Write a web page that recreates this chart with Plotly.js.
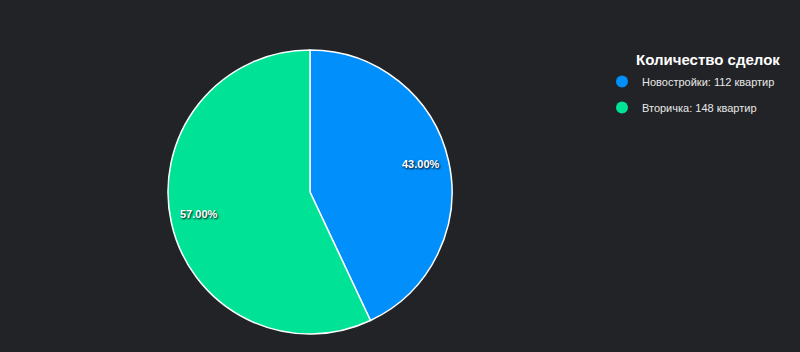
<!DOCTYPE html>
<html>
<head>
<meta charset="utf-8">
<script src="https://cdn.plot.ly/plotly-3.0.1.min.js"></script>
<style>html,body{margin:0;padding:0;background:#222326;}#chart{width:800px;height:352px;}</style>
</head>
<body>
<div id="chart"></div>
<script>
const categories = ["Новостройки", "Вторичка"];
const counts = [112, 148];
const shares = [43, 57];
const shareLabels = ["43.00%", "57.00%"];
const colors = ["#008FFB", "#00E396"];
const legendTitle = "Количество сделок";
const unit = "квартир";

const W = 800, H = 352;
const pieCx = 310, pieCy = 192, pieR = 142;
const FONT = "Liberation Sans, Arial, sans-serif";

const pie = {
  type: "pie",
  values: shares,
  labels: categories,
  textinfo: "none",
  sort: false,
  direction: "clockwise",
  rotation: 0,
  marker: {colors: colors, line: {color: "#ffffff", width: 1.5}},
  domain: {x: [(pieCx - pieR) / W, (pieCx + pieR) / W], y: [1 - (pieCy + pieR) / H, 1 - (pieCy - pieR) / H]},
  showlegend: false,
  hoverinfo: "label+value"
};

const legendTraces = categories.map((c, i) => ({
  type: "scatter",
  mode: "markers",
  x: [null], y: [null],
  name: c + ": " + counts[i] + " " + unit,
  marker: {color: colors[i], size: 12, symbol: "circle"},
  legendgroup: "g" + i,
  showlegend: true,
  hoverinfo: "skip"
}));

// slice labels placed at mid-angle of each slice, derived from the data
const total = shares.reduce((a, b) => a + b, 0);
let cum = 0;
const annotations = shares.map((v, i) => {
  const mid = 2 * Math.PI * (cum + v / 2) / total;
  cum += v;
  const rr = 0.8 * pieR;
  return {
    x: (pieCx + rr * Math.sin(mid)) / W,
    y: 1 - (pieCy - rr * Math.cos(mid)) / H,
    xref: "paper", yref: "paper",
    xanchor: "center", yanchor: "middle",
    text: "<b>" + shareLabels[i] + "</b>",
    showarrow: false,
    yshift: 3,
    font: {family: FONT, size: 11, color: "#ffffff", shadow: "1px 1px 2px #000000"}
  };
});
annotations.push({
  x: 634 / W, y: 1 - 59 / H, xref: "paper", yref: "paper",
  xanchor: "left", yanchor: "middle",
  text: "<b>" + legendTitle + "</b>",
  showarrow: false,
  font: {family: FONT, size: 15, color: "#ffffff"}
});

const layout = {
  width: W, height: H,
  margin: {l: 0, r: 0, t: 0, b: 0},
  paper_bgcolor: "#222326",
  plot_bgcolor: "#222326",
  xaxis: {visible: false, domain: [0.9, 0.91]},
  yaxis: {visible: false, domain: [0.9, 0.91]},
  showlegend: true,
  annotations: annotations,
  legend: {
    x: 602 / W, xanchor: "left",
    y: 1 - 67 / H, yanchor: "top",
    bgcolor: "rgba(0,0,0,0)",
    itemwidth: 30,
    traceorder: "grouped",
    tracegroupgap: 7,
    font: {family: FONT, size: 11, color: "#e8e8e8"}
  }
};

Plotly.newPlot("chart", legendTraces.concat([pie]), layout, {displayModeBar: false, staticPlot: true});
</script>
</body>
</html>
